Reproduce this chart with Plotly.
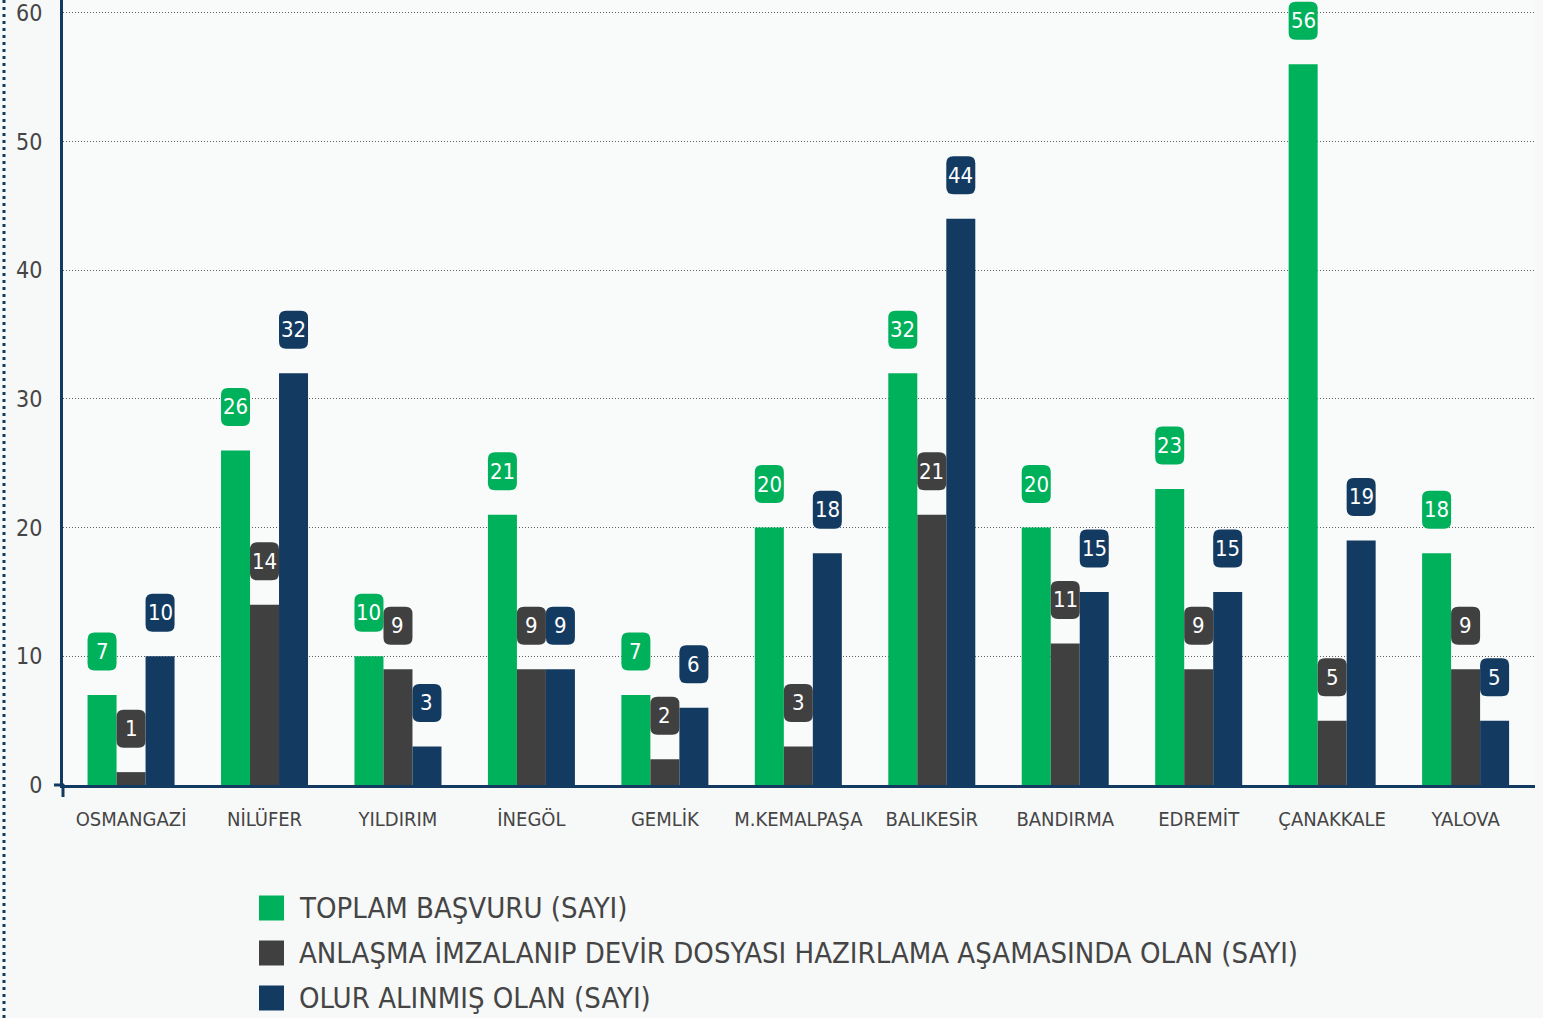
import plotly.graph_objects as go

categories = ["OSMANGAZİ", "NİLÜFER", "YILDIRIM", "İNEGÖL", "GEMLİK", "M.KEMALPAŞA",
              "BALIKESİR", "BANDIRMA", "EDREMİT", "ÇANAKKALE", "YALOVA"]
toplam = [7, 26, 10, 21, 7, 20, 32, 20, 23, 56, 18]
anlasma = [1, 14, 9, 9, 2, 3, 21, 11, 9, 5, 9]
olur = [10, 32, 3, 9, 6, 18, 44, 15, 15, 19, 5]
series_names = ["TOPLAM BAŞVURU (SAYI)",
                "ANLAŞMA İMZALANIP DEVİR DOSYASI HAZIRLAMA AŞAMASINDA OLAN (SAYI)",
                "OLUR ALINMIŞ OLAN (SAYI)"]
y_ticks = [0, 10, 20, 30, 40, 50, 60]

colors = ["#00B15B", "#404040", "#133B61"]
NAVY = "#133B61"
TXT = "#454545"
FONT = "DejaVu Sans Condensed, Liberation Sans Narrow, Roboto, sans-serif"

W, H = 1543, 1018
ML, MR, MT, MB = 63, 8, 0, 233
PW, PH = W - ML - MR, H - MT - MB
XR = [-0.51, 10.52]
YR = [0, 61]
px_per_x = PW / (XR[1] - XR[0])
px_per_y = PH / (YR[1] - YR[0])
bw = 29 / px_per_x
label_off = 43.5 / px_per_y

def pxx(px):
    return (px - ML) / PW

def pxy(py):
    return (MT + PH - py) / PH

fig = go.Figure()
x_idx = list(range(len(categories)))
all_series = [toplam, anlasma, olur]
for s, vals in enumerate(all_series):
    fig.add_trace(go.Bar(x=x_idx, y=vals, name=series_names[s], marker_color=colors[s],
                         marker_line_width=0, showlegend=False, hoverinfo="y"))

# rounded value labels
hw, hh, r = 14.5, 19, 7
box_path = (f"M {-hw+r},{-hh} L {hw-r},{-hh} Q {hw},{-hh} {hw},{-hh+r} "
            f"L {hw},{hh-r} Q {hw},{hh} {hw-r},{hh} L {-hw+r},{hh} "
            f"Q {-hw},{hh} {-hw},{hh-r} L {-hw},{-hh+r} Q {-hw},{-hh} {-hw+r},{-hh} Z")
shapes = []
annotations = []
for s, vals in enumerate(all_series):
    for i, v in enumerate(vals):
        xc = i + (s - 1) * bw
        yc = v + label_off
        shapes.append(dict(type="path", xref="x", yref="y", xsizemode="pixel", ysizemode="pixel",
                           xanchor=xc, yanchor=yc, path=box_path, fillcolor=colors[s],
                           line=dict(width=0), layer="above"))
        annotations.append(dict(x=xc, y=yc, xref="x", yref="y", text=str(v), showarrow=False,
                                font=dict(family=FONT, size=22, color="white"),
                                xanchor="center", yanchor="middle"))

# legend (manual)
leg_rows = [908, 953, 998]
for s, name in enumerate(series_names):
    yc = leg_rows[s]
    shapes.append(dict(type="rect", xref="paper", yref="paper",
                       x0=pxx(259), x1=pxx(284), y0=pxy(yc + 12.5), y1=pxy(yc - 12.5),
                       fillcolor=colors[s], line=dict(width=0)))
    annotations.append(dict(x=pxx(297), y=pxy(yc), xref="paper", yref="paper", text=name,
                            showarrow=False, xanchor="left", yanchor="middle",
                            font=dict(family=FONT, size=29, color=TXT)))

# left dotted border
shapes.append(dict(type="line", xref="paper", yref="paper", x0=pxx(4), x1=pxx(4),
                   y0=pxy(0), y1=pxy(H), line=dict(color=NAVY, width=3, dash="3px,4px")))
# axis extensions
shapes.append(dict(type="line", xref="paper", yref="paper", x0=pxx(54), x1=pxx(64),
                   y0=pxy(785), y1=pxy(785), line=dict(color=NAVY, width=3)))
shapes.append(dict(type="line", xref="paper", yref="paper", x0=pxx(63), x1=pxx(63),
                   y0=pxy(784), y1=pxy(797), line=dict(color=NAVY, width=3)))

fig.update_layout(
    width=W, height=H,
    margin=dict(l=ML, r=MR, t=MT, b=MB),
    paper_bgcolor="#f7f8f8", plot_bgcolor="#f9fafa",
    barmode="group", bargap=1 - 3 * bw, bargroupgap=0,
    shapes=shapes, annotations=annotations,
    font=dict(family=FONT, color=TXT),
    showlegend=False,
)
fig.update_xaxes(range=XR, tickmode="array", tickvals=x_idx, ticktext=categories,
                 showgrid=False, zeroline=False, showline=True, linecolor=NAVY, linewidth=3,
                 ticks="", ticklabelstandoff=14, tickfont=dict(family=FONT, size=20, color=TXT))
fig.update_yaxes(range=YR, tickmode="array", tickvals=y_ticks, showgrid=True,
                 gridcolor="#5f5f5f", gridwidth=1, griddash="1px,2px", zeroline=False,
                 showline=True, linecolor=NAVY, linewidth=3, ticks="", ticklabeloverflow="allow",
                 ticklabelstandoff=13, tickfont=dict(family=FONT, size=23, color=TXT))

fig.write_html("out.html", config={"displayModeBar": False},
               post_script="document.body.style.margin='0';document.body.style.overflow='hidden';"
                           "document.body.style.background='#f7f8f8';")
